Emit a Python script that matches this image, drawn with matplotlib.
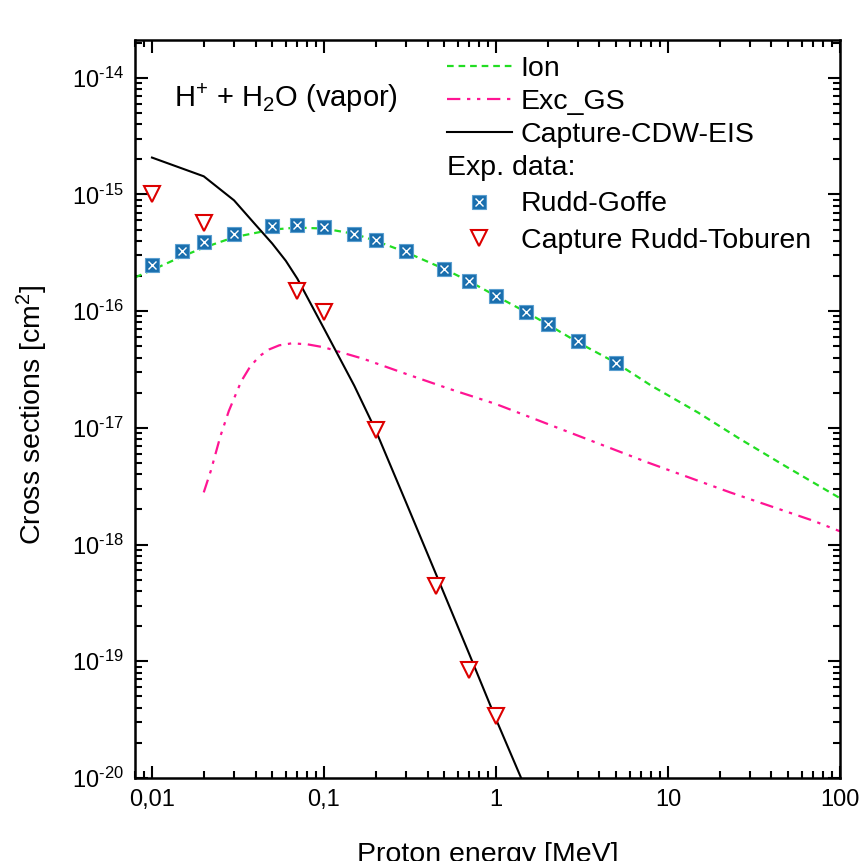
import matplotlib
matplotlib.use("Agg")
import matplotlib.pyplot as plt
from matplotlib.lines import Line2D
from matplotlib.ticker import FixedLocator, LogLocator, NullFormatter

plt.rcParams['font.family'] = ['Liberation Sans', 'DejaVu Sans']
plt.rcParams['mathtext.fontset'] = 'custom'
plt.rcParams['mathtext.rm'] = 'Liberation Sans'
plt.rcParams['mathtext.it'] = 'Liberation Sans'

# theory curves
ion_e = [0.008, 0.01, 0.015, 0.02, 0.03, 0.05, 0.07, 0.1, 0.15, 0.2, 0.3, 0.5,
         0.7, 1, 1.5, 2, 3, 5, 8, 15, 26, 47, 100]
ion_cs = [1.95e-16, 2.25e-16, 2.95e-16, 3.5e-16, 4.3e-16, 5.0e-16, 5.2e-16,
          5.1e-16, 4.6e-16, 4.0e-16, 3.2e-16, 2.3e-16, 1.8e-16, 1.35e-16,
          9.8e-17, 7.7e-17, 5.4e-17, 3.6e-17, 2.3e-17, 1.35e-17, 8.1e-18,
          4.8e-18, 2.5e-18]

exc_e = [0.02, 0.022, 0.025, 0.028, 0.033, 0.037, 0.042, 0.048, 0.055, 0.065,
         0.08, 0.1, 0.17, 0.3, 0.54, 1.0, 2.6, 7.5, 23, 70, 100]
exc_cs = [2.8e-18, 4.3e-18, 8.5e-18, 1.4e-17, 2.5e-17, 3.3e-17, 4.1e-17,
          4.7e-17, 5.1e-17, 5.3e-17, 5.2e-17, 4.9e-17, 3.9e-17, 2.9e-17,
          2.15e-17, 1.6e-17, 9.3e-18, 5.1e-18, 2.8e-18, 1.6e-18, 1.3e-18]

cap_e = [0.01, 0.02, 0.03, 0.04, 0.05, 0.06, 0.07, 0.1, 0.15, 0.2, 0.3, 0.45,
         0.7, 1.0, 1.5]
cap_cs = [2.07e-15, 1.43e-15, 8.9e-16, 5.5e-16, 3.8e-16, 2.7e-16, 1.9e-16,
          7.1e-17, 2.3e-17, 9.5e-18, 2.3e-18, 5.5e-19, 1.15e-19, 3.2e-20,
          7.9e-21]

# experimental data
rg_e = [0.01, 0.015, 0.02, 0.03, 0.05, 0.07, 0.1, 0.15, 0.2, 0.3, 0.5, 0.7,
        1, 1.5, 2, 3, 5]
rg_cs = [2.5e-16, 3.25e-16, 3.9e-16, 4.6e-16, 5.4e-16, 5.5e-16, 5.3e-16,
         4.6e-16, 4.1e-16, 3.25e-16, 2.3e-16, 1.8e-16, 1.34e-16, 9.8e-17,
         7.7e-17, 5.5e-17, 3.6e-17]

rt_e = [0.01, 0.02, 0.07, 0.1, 0.2, 0.45, 0.7, 1.0]
rt_cs = [1.0e-15, 5.7e-16, 1.5e-16, 9.8e-17, 9.6e-18, 4.4e-19, 8.5e-20, 3.4e-20]

xticks = [0.01, 0.1, 1, 10, 100]
xticklabels = ['0,01', '0,1', '1', '10', '100']
yticks = [1e-20, 1e-19, 1e-18, 1e-17, 1e-16, 1e-15, 1e-14]
yticklabels = ['$10^{\\text{%d}}$' % p for p in range(-20, -13)]

green = '#22dd22'
magenta = '#ff1493'
blue = '#1a6fae'
red = '#dd0000'

fig = plt.figure(figsize=(8.65, 8.61), dpi=100)
ax = fig.add_axes([0.156, 0.0964, 0.815, 0.857])

ln_ion, = ax.plot(ion_e, ion_cs, color=green, ls=(0, (3, 2.2)), lw=1.6)
ln_exc, = ax.plot(exc_e, exc_cs, color=magenta, ls=(0, (6, 3, 1.5, 3, 1.5, 3)), lw=1.6)
ln_cap, = ax.plot(cap_e, cap_cs, color='black', lw=1.5)

ax.plot(rg_e, rg_cs, ls='none', marker='s', ms=10, mfc=blue, mec='#5b9fd0', mew=0.8)
ax.plot(rg_e, rg_cs, ls='none', marker='x', ms=6, mec='white', mew=1.0)
ax.plot(rt_e, rt_cs, ls='none', marker='v', ms=12, mfc='white', mec=red, mew=1.5)

ax.set_xscale('log')
ax.set_yscale('log')
ax.set_xlim(0.00796, 100)
ax.set_ylim(1e-20, 2.1e-14)

ax.xaxis.set_major_locator(FixedLocator(xticks))
ax.set_xticklabels(xticklabels)
ax.xaxis.set_minor_locator(LogLocator(base=10, subs=range(2, 10), numticks=20))
ax.xaxis.set_minor_formatter(NullFormatter())
ax.yaxis.set_major_locator(FixedLocator(yticks))
ax.set_yticklabels(yticklabels)
ax.yaxis.set_minor_locator(LogLocator(base=10, subs=range(2, 10), numticks=20))
ax.yaxis.set_minor_formatter(NullFormatter())

ax.tick_params(which='both', direction='in', top=True, right=True, width=1.5)
ax.tick_params(which='major', length=9, labelsize=17, pad=8)
ax.tick_params(which='minor', length=5)
for s in ax.spines.values():
    s.set_linewidth(1.8)

ax.set_xlabel('Proton energy [MeV]', fontsize=20.5, labelpad=22)
ax.set_ylabel('Cross sections [cm$^2$]', fontsize=20.5)
ax.yaxis.set_label_coords(-0.121, 0.493)

ax.text(0.055, 0.945, 'H$^{\\text{+}}$ + H$_2$O (vapor)', transform=ax.transAxes,
        fontsize=21, va='top', ha='left')

leg1 = ax.legend([ln_ion, ln_exc, ln_cap], ['Ion', 'Exc_GS', 'Capture-CDW-EIS'],
                 loc='upper left', bbox_to_anchor=(0.42, 1.0), frameon=False,
                 fontsize=20.5, handlelength=2.3, handletextpad=0.3,
                 labelspacing=0.25, borderaxespad=0.15)
ax.add_artist(leg1)

h_rg = (Line2D([], [], ls='none', marker='s', ms=10, mfc=blue, mec='#5b9fd0', mew=0.8),
        Line2D([], [], ls='none', marker='x', ms=6, mec='white', mew=1.0))
h_rt = Line2D([], [], ls='none', marker='v', ms=12, mfc='white', mec=red, mew=1.5)
leg2 = ax.legend([h_rg, h_rt], ['Rudd-Goffe', 'Capture Rudd-Toburen'],
                 title='Exp. data:', title_fontsize=20.5, alignment='left',
                 loc='upper left', bbox_to_anchor=(0.42, 0.866), frameon=False,
                 fontsize=20.5, handlelength=2.3, handletextpad=0.3,
                 labelspacing=0.38, borderaxespad=0.15)
leg2._legend_handle_box.sep = 3

fig.savefig('out.png', dpi=100)
